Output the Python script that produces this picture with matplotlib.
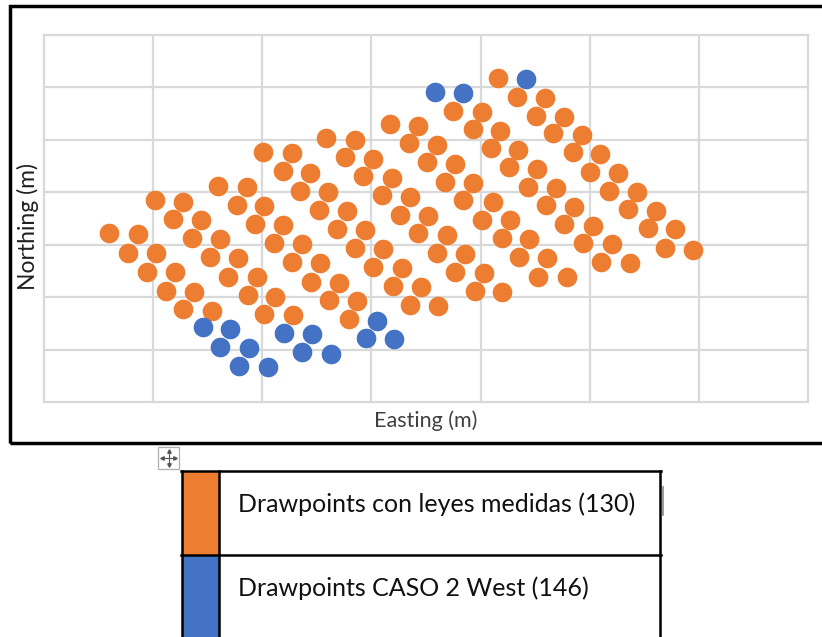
import matplotlib
matplotlib.use('Agg')
import matplotlib.pyplot as plt
from matplotlib.patches import Rectangle
from matplotlib.lines import Line2D

# drawpoint positions (grid spacing = 100 m)
orange_east = [60, 77, 94, 112, 127, 86, 103, 120, 137, 154,
               102, 118, 136, 152, 169, 187, 202, 127, 144, 161, 178, 195, 212, 228,
               159, 177, 193, 211, 227, 245, 261, 279, 186, 202, 219, 236, 253, 270, 287,
               201, 219, 235, 252, 268, 285, 301, 320, 335,
               227, 244, 260, 278, 294, 311, 328, 345, 361,
               258, 276, 292, 310, 326, 343, 360, 377, 395,
               285, 301, 319, 335, 352, 369, 386, 403, 420,
               317, 334, 351, 367, 384, 401, 420, 435, 453,
               343, 360, 377, 393, 411, 427, 444, 461, 479,
               375, 393, 410, 426, 443, 460, 476, 494, 510,
               401, 418, 434, 452, 469, 486, 503, 520, 537,
               416, 433, 451, 466, 485, 500, 518, 535, 553, 569,
               459, 476, 493, 509, 526, 543, 561, 578, 595]
orange_north = [322, 284, 248, 212, 177, 320, 284, 248, 210, 174,
                385, 349, 313, 277, 238, 204, 168, 381, 347, 311, 275, 238, 200, 166,
                412, 376, 340, 303, 267, 229, 195, 158, 410, 374, 338, 301, 265, 227, 193,
                477, 441, 402, 366, 330, 294, 257, 221, 185,
                475, 437, 401, 364, 328, 292, 256, 219, 183,
                504, 467, 431, 395, 357, 322, 284, 248, 212,
                500, 463, 427, 391, 355, 319, 282, 246, 210,
                530, 494, 458, 420, 385, 347, 313, 277, 238,
                526, 490, 454, 418, 381, 347, 311, 275, 238,
                555, 521, 484, 448, 410, 376, 340, 303, 267,
                553, 517, 481, 444, 408, 372, 336, 301, 265,
                618, 582, 545, 513, 477, 439, 402, 368, 332, 294,
                580, 544, 509, 473, 437, 401, 364, 330, 290]

blue_east = [146, 161, 179, 170, 188, 205, 220, 236, 246, 263,
             295, 305, 321, 358, 384, 442]
blue_north = [143, 105, 69, 139, 103, 67, 132, 95, 130, 92,
              122, 154, 120, 591, 589, 616]

legend_labels = ['Drawpoints con leyes medidas (130)', 'Drawpoints CASO 2 West (146)']
legend_colors = ['#ED7D31', '#4472C4']

W, H = 822, 637
fig = plt.figure(figsize=(W / 100, H / 100), dpi=100)
plt.rcParams['font.family'] = ['Lato', 'DejaVu Sans']


def fx(px):
    return px / W


def fy(py):
    return 1 - py / H


ax = fig.add_axes([fx(44), fy(402), fx(808) - fx(44), fy(35) - fy(402)])
ax.scatter(orange_east, orange_north, s=200, color=legend_colors[0], linewidths=0, zorder=3)
ax.scatter(blue_east, blue_north, s=200, color=legend_colors[1], linewidths=0, zorder=3)
ax.set_xlim(0, 700)
ax.set_ylim(0, 700)
ax.set_xticks(range(0, 701, 100))
ax.set_yticks(range(0, 701, 100))
ax.grid(True, color='#d9d9d9', lw=1.6)
for gl in ax.get_xgridlines() + ax.get_ygridlines():
    gl.set_clip_on(False)
ax.set_axisbelow(True)
ax.tick_params(length=0, labelbottom=False, labelleft=False)
for s in ax.spines.values():
    s.set_visible(False)

fig.text(fx(426), fy(421), 'Easting (m)', ha='center', va='center', fontsize=15.5, color='#404040')
fig.text(fx(28), fy(226), 'Northing (m)', ha='center', va='center', rotation=90,
         fontsize=16.5, color='#202020')

# chart frame
fig.patches.append(Rectangle((fx(10), fy(443)), fx(840) - fx(10), fy(6) - fy(443),
                             transform=fig.transFigure, fill=False, ec='black', lw=2.5))

# move handle
fig.patches.append(Rectangle((fx(158), fy(469)), fx(21), fy(447) - fy(469),
                             transform=fig.transFigure, fill=False, ec='#b0b0b0', lw=0.9))
fig.lines.append(Line2D([fx(162), fx(175)], [fy(458), fy(458)], transform=fig.transFigure,
                        color='#555555', lw=0.8))
fig.lines.append(Line2D([fx(168.5), fx(168.5)], [fy(451), fy(465)], transform=fig.transFigure,
                        color='#555555', lw=0.8))
for mk, (px, py) in zip(['<', '>', '^', 'v'], [(162, 458), (175, 458), (168.5, 451), (168.5, 465)]):
    fig.lines.append(Line2D([fx(px)], [fy(py)], transform=fig.transFigure, marker=mk,
                            markersize=2.5, color='#555555', lw=0))

# legend table
rows = [(471, 555), (555, 640)]
for (top, bot), lab, col in zip(rows, legend_labels, legend_colors):
    fig.patches.append(Rectangle((fx(182), fy(bot)), fx(219) - fx(182), fy(top) - fy(bot),
                                 transform=fig.transFigure, fc=col, ec='none'))
    fig.text(fx(238), fy(top + 33), lab, ha='left', va='center', fontsize=18, color='#111111')
for yy in (471, 555):
    fig.lines.append(Line2D([fx(181), fx(661)], [fy(yy), fy(yy)], transform=fig.transFigure,
                            color='black', lw=1.8))
for xx in (182, 219, 660):
    fig.lines.append(Line2D([fx(xx), fx(xx)], [fy(471), fy(640)], transform=fig.transFigure,
                            color='black', lw=1.8))
fig.lines.append(Line2D([fx(663), fx(663)], [fy(487), fy(515)], transform=fig.transFigure,
                        color='#888888', lw=1.2))

fig.savefig('out.png', dpi=100)
